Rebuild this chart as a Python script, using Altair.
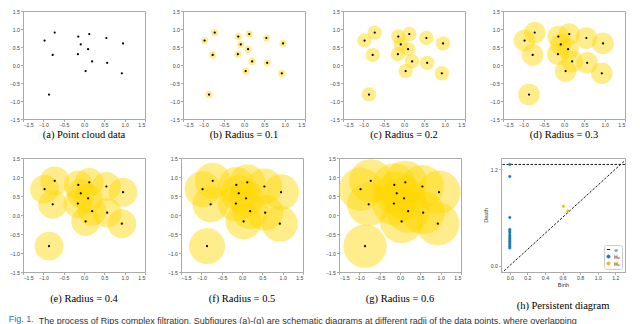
import math
import altair as alt
import pandas as pd

# ---- data ----
pts_x = [-0.97, -0.72, -0.77, -0.14, 0.13, -0.08, 0.10, -0.15, 0.20, 0.04, 0.57, 0.55, 0.96, 0.93, -0.86]
pts_y = [0.68, 0.90, 0.28, 0.79, 0.86, 0.57, 0.44, 0.30, 0.10, -0.17, 0.06, 0.75, 0.60, -0.23, -0.82]
radii = [0.0, 0.1, 0.2, 0.3, 0.4, 0.5, 0.6]
captions = ["(a) Point cloud data", "(b) Radius = 0.1", "(c) Radius = 0.2", "(d) Radius = 0.3",
            "(e) Radius = 0.4", "(f) Radius = 0.5", "(g) Radius = 0.6", "(h) Persistent diagram"]
cloud_ticks = [-1.5, -1.0, -0.5, 0.0, 0.5, 1.0, 1.5]

h0_birth = [0.0] * 14
h0_death = [1.11, 0.60, 0.45, 0.43, 0.41, 0.38, 0.36, 0.34, 0.32, 0.30, 0.28, 0.26, 0.24, 0.22]
inf_birth = [0.0]
inf_death = [1.26]
h1_birth = [0.61, 0.66]
h1_death = [0.74, 0.68]
pd_ticks_x = [0.0, 0.2, 0.4, 0.6, 0.8, 1.0, 1.2]
pd_ticks_y = [0.0, 0.2, 0.4, 0.6, 0.8, 1.0, 1.2]
pd_x_domain = [-0.1, 1.31]
pd_y_domain = [-0.08, 1.34]
diag = [-0.1, 1.34]
legend_labels = ["∞", "H₀", "H₁"]

fig_label = "Fig. 1."
fig_caption = ("The process of Rips complex filtration. Subfigures (a)-(g) are schematic diagrams "
               "at different radii of the data points, where overlapping")

# ---- layout ----
W = 122
H1 = 108
H2 = 114
PPU = W / 3.0
SERIF = "Liberation Serif, Times New Roman, serif"
SANS = "Liberation Sans, Arial, sans-serif"

cloud = pd.DataFrame({"x": pts_x, "y": pts_y})

axis_style = dict(grid=False, title=None, tickSize=2.5, labelFontSize=5.2, labelPadding=1,
                  labelFont=SANS, labelColor="#444", domainColor="#aaa",
                  tickColor="#aaa", format=".1f")

def cap_title(text, offset):
    return alt.TitleParams(text=text, orient="bottom", frame="group", offset=offset,
                           font=SERIF, fontSize=10.5, fontWeight="normal",
                           color="black", anchor="middle")

def cloud_panel(r, caption, h, offset):
    x = alt.X("x:Q", scale=alt.Scale(domain=[-1.5, 1.5], nice=False),
              axis=alt.Axis(values=cloud_ticks, **axis_style))
    y = alt.Y("y:Q", scale=alt.Scale(domain=[-1.5, 1.5], nice=False),
              axis=alt.Axis(values=cloud_ticks, **axis_style))
    base = alt.Chart(cloud)
    layers = []
    if r > 0:
        size = math.pi * (r * PPU) ** 2
        layers.append(base.mark_circle(color="#FFD700", opacity=0.45, size=size, clip=True)
                      .encode(x=x, y=y))
    layers.append(base.mark_circle(color="black", opacity=1, size=5).encode(x=x, y=y))
    return alt.layer(*layers).properties(width=W, height=h, title=cap_title(caption, offset))

# ---- persistence diagram ----
pdf = pd.DataFrame({
    "birth": inf_birth + h0_birth + h1_birth,
    "death": inf_death + h0_death + h1_death,
    "kind": [legend_labels[1]] * (len(inf_birth) + len(h0_birth)) + [legend_labels[2]] * len(h1_birth),
})
pd_axis_x = dict(axis_style, title="Birth", titleFontSize=5.5, titleFont=SANS,
                 titleFontWeight="normal", titlePadding=2, titleColor="#333")
pd_axis_y = dict(axis_style, title="Death", titleFontSize=5.5, titleFont=SANS,
                 titleFontWeight="normal", titlePadding=2, titleColor="#333")
px_enc = alt.X("birth:Q", scale=alt.Scale(domain=pd_x_domain, nice=False, zero=False),
               axis=alt.Axis(values=pd_ticks_x, **pd_axis_x))
py_enc = alt.Y("death:Q", scale=alt.Scale(domain=pd_y_domain, nice=False, zero=False),
               axis=alt.Axis(values=pd_ticks_y, **pd_axis_y))

diag_df = pd.DataFrame({"birth": diag, "death": diag})
diag_line = alt.Chart(diag_df).mark_line(color="black", strokeDash=[2.5, 1.5], strokeWidth=0.9,
                                         clip=True).encode(x=px_enc, y=py_enc)
inf_rule = alt.Chart(pd.DataFrame({"death": inf_death})).mark_rule(
    color="black", strokeDash=[2.5, 1.5], strokeWidth=0.9).encode(y=alt.Y("death:Q"))

leg = alt.Legend(orient="bottom-right", title=None, labelFontSize=5, labelFont="DejaVu Sans",
                 symbolSize=10, padding=2, rowPadding=0, offset=3, strokeColor="#ccc",
                 fillColor="white", cornerRadius=2, symbolStrokeWidth=0.9, labelOffset=3)
kind_scale_col = alt.Scale(domain=legend_labels, range=["black", "#1f77b4", "#f5b800"])
kind_scale_shape = alt.Scale(domain=legend_labels, range=["stroke", "circle", "circle"])
pd_points = alt.Chart(pdf).mark_point(filled=True, size=6, opacity=1, strokeWidth=0.5).encode(
    x=px_enc, y=py_enc,
    fill=alt.Fill("kind:N", scale=kind_scale_col, legend=leg),
    stroke=alt.Stroke("kind:N", scale=kind_scale_col, legend=leg),
    shape=alt.Shape("kind:N", scale=kind_scale_shape, legend=leg),
)
pd_panel = alt.layer(diag_line, inf_rule, pd_points).properties(
    width=124, height=H2, title=cap_title(captions[7], 13))

indep = dict(fill="independent", stroke="independent", shape="independent")

row1 = alt.hconcat(*[cloud_panel(radii[i], captions[i], H1, 2) for i in range(4)], spacing=22)
row2 = alt.hconcat(*[cloud_panel(radii[i], captions[i], H2, 13) for i in range(4, 7)], pd_panel,
                   spacing=20).properties(
    title=alt.TitleParams(text=fig_caption, orient="bottom", anchor="start", frame="bounds",
                          offset=5, dx=30, font=SANS, fontSize=9, limit=590,
                          fontWeight="normal", color="#333")
).resolve_scale(**indep).resolve_legend(**indep)

chart = alt.vconcat(row1, row2, spacing=14).properties(
    title=alt.TitleParams(text=fig_label, orient="bottom", anchor="start", offset=0, dy=-11,
                          font=SANS, fontSize=9, fontWeight="normal",
                          color="#2a6db5"),
    padding=0
).resolve_scale(**indep).resolve_legend(**indep).configure_view(
    stroke="#aaa", strokeWidth=1
).configure_title(font=SERIF, fontWeight="normal")

chart.save("out.html", embed_options={"renderer": "svg", "actions": False})
